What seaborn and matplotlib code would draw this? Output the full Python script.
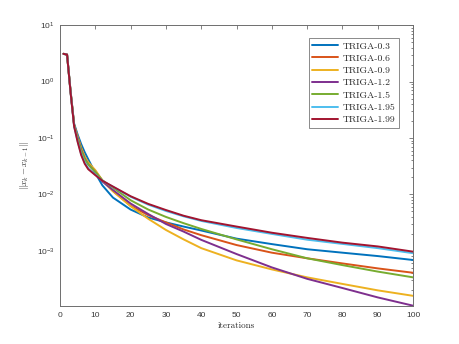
import matplotlib
matplotlib.use("Agg")
from matplotlib import pyplot as plt
import matplotlib.ticker as mticker
import pandas as pd
import seaborn as sns

iters = [1, 2, 3, 4, 5, 6, 7, 8, 10, 12, 15, 20, 25, 30, 35, 40, 50, 60, 70, 80, 90, 100]

triga_03 = [3.1, 3.0, 0.68, 0.18, 0.115, 0.078, 0.056, 0.042, 0.024, 0.0145, 0.0088, 0.0054,
            0.0039, 0.0032, 0.0027, 0.0023, 0.00165, 0.00132, 0.00107, 0.00093, 0.00081, 0.00069]
triga_06 = [3.1, 3.0, 0.66, 0.17, 0.105, 0.066, 0.046, 0.036, 0.026, 0.0175, 0.0115, 0.0063,
            0.0043, 0.0032, 0.0024, 0.0019, 0.00127, 0.00093, 0.00074, 0.0006, 0.00049, 0.00041]
triga_09 = [3.1, 3.0, 0.66, 0.17, 0.105, 0.067, 0.047, 0.037, 0.027, 0.0178, 0.0114, 0.0062,
            0.0037, 0.00235, 0.0016, 0.00112, 0.00068, 0.00047, 0.00034, 0.00026, 0.0002, 0.00016]
triga_12 = [3.1, 3.0, 0.66, 0.17, 0.1, 0.062, 0.043, 0.034, 0.025, 0.017, 0.012, 0.0069,
            0.0045, 0.003, 0.0022, 0.00157, 0.00088, 0.00051, 0.00032, 0.00022, 0.00015, 0.000107]
triga_15 = [3.1, 3.0, 0.66, 0.17, 0.097, 0.06, 0.042, 0.034, 0.025, 0.0178, 0.0132, 0.0079,
            0.0054, 0.004, 0.0031, 0.00245, 0.0016, 0.00107, 0.00074, 0.00056, 0.00043, 0.00034]
triga_195 = [3.1, 3.0, 0.64, 0.16, 0.088, 0.052, 0.037, 0.029, 0.0225, 0.0175, 0.0137, 0.0091,
             0.0066, 0.0051, 0.0041, 0.0034, 0.00255, 0.002, 0.00158, 0.00133, 0.00112, 0.00091]
triga_199 = [3.1, 3.0, 0.64, 0.16, 0.085, 0.05, 0.035, 0.028, 0.022, 0.0175, 0.0138, 0.0093,
             0.0068, 0.0053, 0.0042, 0.0035, 0.0027, 0.0021, 0.0017, 0.0014, 0.0012, 0.00097]

labels = ["TRIGA-0.3", "TRIGA-0.6", "TRIGA-0.9", "TRIGA-1.2", "TRIGA-1.5", "TRIGA-1.95", "TRIGA-1.99"]
series = [triga_03, triga_06, triga_09, triga_12, triga_15, triga_195, triga_199]
colors = ["#0072BD", "#D95319", "#EDB120", "#7E2F8E", "#77AC30", "#4DBEEE", "#A2142F"]

rows = []
for lab, vals in zip(labels, series):
    for it, v in zip(iters, vals):
        rows.append({"iteration": it, "value": v, "method": lab})
df = pd.DataFrame(rows)

sns.set_style("white")
plt.rcParams["font.family"] = ["Liberation Sans", "DejaVu Sans"]
plt.rcParams["mathtext.fontset"] = "custom"
plt.rcParams["mathtext.rm"] = "Liberation Sans"
plt.rcParams["mathtext.it"] = "Liberation Sans:italic"

fig = plt.figure(figsize=(4.59, 3.44), dpi=100)
ax = fig.add_axes([0.1307, 0.110, 0.7693, 0.817])

sns.lineplot(data=df, x="iteration", y="value", hue="method", hue_order=labels,
             palette=colors, linewidth=1.4, ax=ax, legend=False)

ax.set_yscale("log")
ax.set_xlim(0, 100)
ax.set_ylim(1.05e-4, 10)
ax.set_xticks(range(0, 101, 10))
ax.yaxis.set_major_locator(mticker.LogLocator(base=10, numticks=10))
ax.yaxis.set_minor_locator(mticker.LogLocator(base=10, subs=range(2, 10), numticks=20))
ax.yaxis.set_minor_formatter(mticker.NullFormatter())

axis_col = "#6e6e6e"
for sp in ax.spines.values():
    sp.set_visible(True)
    sp.set_color(axis_col)
    sp.set_linewidth(0.7)
ax.tick_params(which="both", direction="in", top=True, right=True, colors=axis_col,
               labelcolor="#3a3a3a", labelsize=6, width=0.6)
ax.tick_params(which="major", length=3, pad=4)
ax.tick_params(which="minor", length=1.6)

ax.set_xlabel("iterations", family="cmr10", fontsize=6.5, color="#262626", labelpad=2)
ax.set_ylabel(r"$\|x_k - x_{k-1}\|$", fontsize=6.5, color="#262626",
              math_fontfamily="cm", labelpad=4)

handles = [plt.Line2D([], [], color=c, linewidth=1.4) for c in colors]
leg = ax.legend(handles, labels, loc="upper right", bbox_to_anchor=(0.96, 0.953),
                prop={"family": "cmr10", "size": 7}, frameon=True, fancybox=False,
                handlelength=2.7, handletextpad=0.45, labelspacing=0.36,
                borderpad=0.35, borderaxespad=0)
leg.get_frame().set_edgecolor("#555555")
leg.get_frame().set_linewidth(0.6)

fig.savefig("out.png", dpi=100)
